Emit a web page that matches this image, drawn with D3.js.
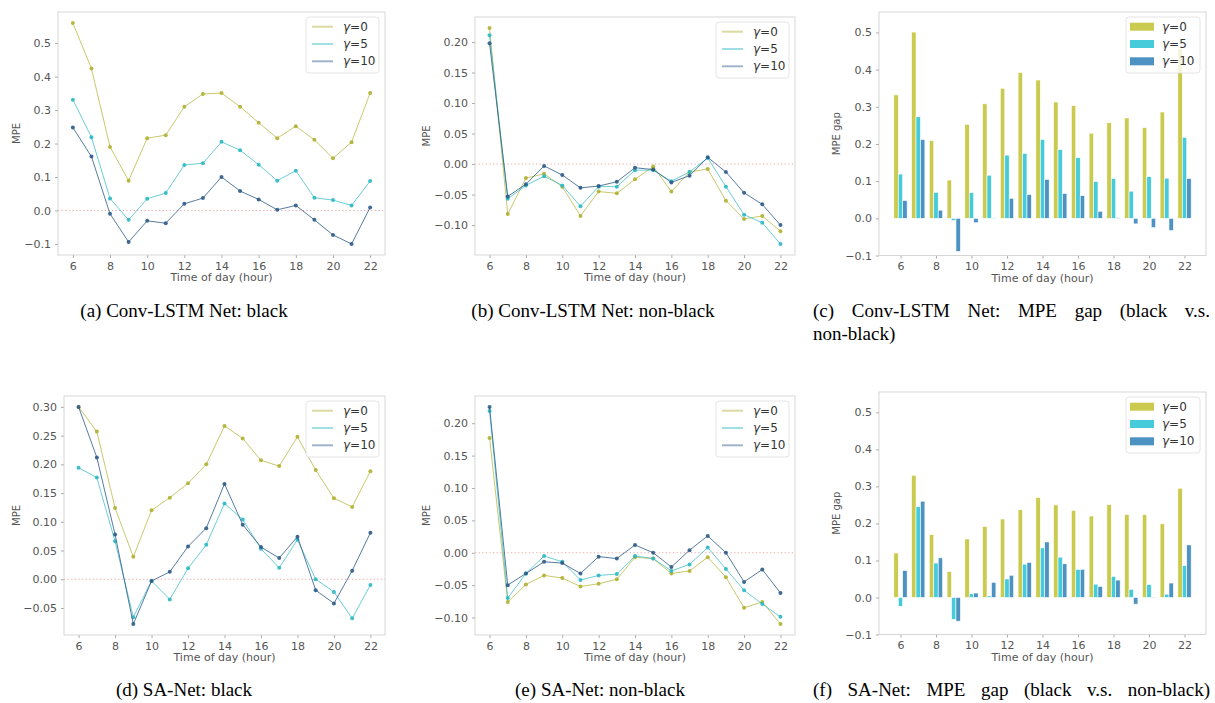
<!DOCTYPE html>
<meta charset="utf-8">
<style>
  body { margin: 0; background: #fff; }
  svg text { font-family: "DejaVu Sans", sans-serif; }
  svg .caption text { font-family: "Liberation Serif", "Times New Roman", serif; font-size: 19px; fill: #000; }
</style>
<svg id="fig" width="1215" height="703"></svg>
<script src="https://d3js.org/d3.v7.min.js"></script>
<script>
// hours on the x axis
const hours = [6, 7, 8, 9, 10, 11, 12, 13, 14, 15, 16, 17, 18, 19, 20, 21, 22];
const xTicks = [6, 8, 10, 12, 14, 16, 18, 20, 22];
const gammas = ["0", "5", "10"];

// (a) Conv-LSTM Net: black
const convBlack0 = [0.56, 0.424, 0.19, 0.089, 0.216, 0.225, 0.31, 0.348, 0.351, 0.31, 0.262, 0.216, 0.252, 0.211, 0.156, 0.204, 0.351];
const convBlack5 = [0.331, 0.219, 0.036, -0.028, 0.035, 0.052, 0.136, 0.141, 0.205, 0.18, 0.137, 0.089, 0.119, 0.038, 0.031, 0.015, 0.088];
const convBlack10 = [0.248, 0.161, -0.01, -0.094, -0.031, -0.038, 0.02, 0.037, 0.1, 0.058, 0.033, 0.002, 0.015, -0.028, -0.073, -0.1, 0.009];

// (b) Conv-LSTM Net: non-black
const convNon0 = [0.223, -0.082, -0.023, -0.016, -0.037, -0.085, -0.045, -0.048, -0.025, -0.004, -0.045, -0.013, -0.008, -0.06, -0.09, -0.085, -0.11];
const convNon5 = [0.211, -0.057, -0.035, -0.02, -0.035, -0.069, -0.037, -0.037, -0.01, -0.01, -0.028, -0.013, 0.01, -0.037, -0.083, -0.096, -0.131];
const convNon10 = [0.198, -0.053, -0.033, -0.003, -0.018, -0.039, -0.036, -0.029, -0.006, -0.009, -0.03, -0.019, 0.011, -0.013, -0.047, -0.066, -0.1];

// (c) Conv-LSTM Net: MPE gap
const convGap0 = [0.332, 0.501, 0.209, 0.103, 0.253, 0.308, 0.35, 0.392, 0.372, 0.313, 0.303, 0.229, 0.257, 0.27, 0.244, 0.286, 0.457];
const convGap5 = [0.119, 0.273, 0.07, -0.006, 0.069, 0.116, 0.17, 0.175, 0.212, 0.185, 0.163, 0.099, 0.107, 0.073, 0.112, 0.108, 0.218];
const convGap10 = [0.048, 0.212, 0.022, -0.089, -0.012, 0.001, 0.054, 0.064, 0.105, 0.067, 0.061, 0.019, 0.002, -0.015, -0.025, -0.033, 0.107];

// (d) SA-Net: black
const saBlack0 = [0.30, 0.257, 0.124, 0.039, 0.12, 0.142, 0.167, 0.2, 0.267, 0.245, 0.207, 0.197, 0.248, 0.19, 0.141, 0.126, 0.188];
const saBlack5 = [0.194, 0.177, 0.066, -0.066, -0.003, -0.035, 0.019, 0.06, 0.132, 0.104, 0.053, 0.02, 0.069, 0.0, -0.022, -0.068, -0.01];
const saBlack10 = [0.30, 0.212, 0.078, -0.078, -0.003, 0.013, 0.057, 0.089, 0.166, 0.095, 0.056, 0.037, 0.074, -0.019, -0.042, 0.015, 0.081];

// (e) SA-Net: non-black
const saNon0 = [0.177, -0.076, -0.049, -0.035, -0.039, -0.052, -0.048, -0.041, -0.007, -0.009, -0.032, -0.028, -0.007, -0.038, -0.085, -0.076, -0.11];
const saNon5 = [0.219, -0.07, -0.032, -0.005, -0.014, -0.042, -0.035, -0.033, -0.005, -0.009, -0.028, -0.018, 0.008, -0.025, -0.058, -0.079, -0.099];
const saNon10 = [0.225, -0.05, -0.032, -0.014, -0.016, -0.032, -0.006, -0.009, 0.012, 0.0, -0.022, 0.004, 0.026, 0.0, -0.045, -0.026, -0.062];

// (f) SA-Net: MPE gap
const saGap0 = [0.12, 0.33, 0.17, 0.07, 0.158, 0.192, 0.212, 0.237, 0.27, 0.25, 0.235, 0.22, 0.251, 0.224, 0.224, 0.199, 0.295];
const saGap5 = [-0.024, 0.245, 0.093, -0.059, 0.01, 0.004, 0.05, 0.09, 0.134, 0.109, 0.076, 0.036, 0.057, 0.022, 0.035, 0.009, 0.086];
const saGap10 = [0.073, 0.26, 0.107, -0.064, 0.012, 0.041, 0.06, 0.095, 0.15, 0.091, 0.076, 0.03, 0.047, -0.018, 0.001, 0.039, 0.142];

// y tick values per panel
const ticksA = [-0.1, 0, 0.1, 0.2, 0.3, 0.4, 0.5];
const ticksB = [-0.10, -0.05, 0, 0.05, 0.10, 0.15, 0.20];
const ticksD = [-0.05, 0, 0.05, 0.10, 0.15, 0.20, 0.25, 0.30];

const lineColors = ["#b0b030", "#2bb8c4", "#2d5b88"];
const barColors = ["#bcbd22", "#17becf", "#1f77b4"];

const panels = [
  {type: "line", series: [convBlack0, convBlack5, convBlack10], left: 58, right: 385, top: 12, bottom: 255,
   xDom: [5.2, 22.8], yDom: [-0.133, 0.593], yTicks: ticksA, fmt: ".1f", ylabel: "MPE", labelX: 17},
  {type: "line", series: [convNon0, convNon5, convNon10], left: 475, right: 795, top: 17, bottom: 255,
   xDom: [5.2, 22.8], yDom: [-0.149, 0.241], yTicks: ticksB, fmt: ".2f", ylabel: "MPE", labelX: 427},
  {type: "bar", series: [convGap0, convGap5, convGap10], left: 879, right: 1206, top: 12, bottom: 255.5,
   xDom: [4.79, 23.21], yDom: [-0.1, 0.555], yTicks: ticksA, fmt: ".1f", ylabel: "MPE gap", labelX: 837},
  {type: "line", series: [saBlack0, saBlack5, saBlack10], left: 64, right: 385, top: 396, bottom: 635,
   xDom: [5.2, 22.8], yDom: [-0.097, 0.319], yTicks: ticksD, fmt: ".2f", ylabel: "MPE", labelX: 17},
  {type: "line", series: [saNon0, saNon5, saNon10], left: 475, right: 795, top: 396, bottom: 635,
   xDom: [5.2, 22.8], yDom: [-0.127, 0.242], yTicks: ticksB, fmt: ".2f", ylabel: "MPE", labelX: 427},
  {type: "bar", series: [saGap0, saGap5, saGap10], left: 879, right: 1206, top: 392, bottom: 634.5,
   xDom: [4.79, 23.21], yDom: [-0.1, 0.555], yTicks: ticksA, fmt: ".1f", ylabel: "MPE gap", labelX: 837}
];

const svg = d3.select("#fig");
svg.append("rect").attr("width", 1215).attr("height", 703).attr("fill", "#fff");

function drawPanel(p) {
  const g = svg.append("g");
  const x = d3.scaleLinear().domain(p.xDom).range([p.left, p.right]);
  const y = d3.scaleLinear().domain(p.yDom).range([p.bottom, p.top]);

  // axes
  const xa = g.append("g")
      .attr("transform", `translate(0,${p.bottom})`)
      .call(d3.axisBottom(x).tickValues(xTicks).tickSize(3).tickPadding(4).tickFormat(d3.format("d")));
  const ya = g.append("g")
      .attr("transform", `translate(${p.left},0)`)
      .call(d3.axisLeft(y).tickValues(p.yTicks).tickSize(3).tickPadding(4).tickFormat(d3.format(p.fmt)));
  [xa, ya].forEach(a => {
    a.select(".domain").remove();
    a.attr("font-family", null).attr("font-size", null);
    a.selectAll(".tick line").attr("stroke", "#aaa");
    a.selectAll(".tick text").attr("fill", "#555").attr("font-size", 11);
  });

  g.append("text")
      .attr("transform", `translate(${p.labelX},${(p.top + p.bottom) / 2}) rotate(-90)`)
      .attr("text-anchor", "middle")
      .attr("dominant-baseline", "middle")
      .attr("font-size", 10)
      .attr("fill", "#555")
      .text(p.ylabel);
  g.append("text")
      .attr("x", (p.left + p.right) / 2)
      .attr("y", p.bottom + 26)
      .attr("text-anchor", "middle")
      .attr("font-size", 11)
      .attr("fill", "#555")
      .text("Time of day (hour)");

  if (p.type === "line") {
    g.append("line")
        .attr("x1", p.left).attr("x2", p.right)
        .attr("y1", y(0)).attr("y2", y(0))
        .attr("stroke", "#e06060").attr("stroke-width", 0.8)
        .attr("stroke-dasharray", "1.2,2.4").attr("opacity", 0.7);
    const line = d3.line().x((d, i) => x(hours[i])).y(d => y(d));
    p.series.forEach((s, k) => {
      g.append("path")
          .attr("d", line(s))
          .attr("fill", "none")
          .attr("stroke", lineColors[k])
          .attr("stroke-width", 1)
          .attr("opacity", k === 2 ? 0.8 : 0.7);
      g.append("g").selectAll("circle")
        .data(s).join("circle")
          .attr("cx", (d, i) => x(hours[i]))
          .attr("cy", d => y(d))
          .attr("r", 2)
          .attr("fill", lineColors[k])
          .attr("opacity", 0.9);
    });
  } else {
    const offsets = [-0.25, 0, 0.25];
    const bw = 0.25;
    p.series.forEach((s, k) => {
      g.append("g").selectAll("rect")
        .data(s).join("rect")
          .attr("x", (d, i) => x(hours[i] + offsets[k] - bw / 2))
          .attr("width", x(bw) - x(0))
          .attr("y", d => y(Math.max(d, 0)))
          .attr("height", d => Math.abs(y(d) - y(0)))
          .attr("fill", barColors[k])
          .attr("fill-opacity", 0.8)
          .attr("stroke", "#fff")
          .attr("stroke-width", 0.6);
    });
  }

  // frame
  g.append("rect")
      .attr("x", p.left).attr("y", p.top)
      .attr("width", p.right - p.left).attr("height", p.bottom - p.top)
      .attr("fill", "none").attr("stroke", "#ccc").attr("stroke-width", 0.8);

  // legend
  const lw = p.type === "bar" ? 74 : 73;
  const lg = g.append("g").attr("transform", `translate(${p.right - 6 - lw},${p.top + 5})`);
  lg.append("rect")
      .attr("width", lw).attr("height", 56).attr("rx", 3)
      .attr("fill", "#fff").attr("fill-opacity", 0.8)
      .attr("stroke", "#ddd").attr("stroke-width", 0.8);
  gammas.forEach((gm, k) => {
    const cy = 9.7 + k * 17.3;
    if (p.type === "line") {
      lg.append("line")
          .attr("x1", 6).attr("x2", 27).attr("y1", cy).attr("y2", cy)
          .attr("stroke", lineColors[k]).attr("stroke-width", 2).attr("opacity", 0.45);
    } else {
      lg.append("rect")
          .attr("x", 4).attr("y", cy - 4).attr("width", 24).attr("height", 8)
          .attr("fill", barColors[k]).attr("fill-opacity", 0.8);
    }
    const t = lg.append("text")
        .attr("x", p.type === "bar" ? 36 : 37).attr("y", cy)
        .attr("dominant-baseline", "middle")
        .attr("font-size", 12).attr("fill", "#333");
    t.append("tspan").attr("font-style", "italic").text("γ");
    t.append("tspan").text("=" + gm);
  });
}

panels.forEach(drawPanel);

// captions
const cap = svg.append("g").attr("class", "caption");

// spread words across a fixed width, like a justified line
function justified(str, x0, y0, width) {
  const t = cap.append("text").attr("y", y0);
  const words = str.split(" ");
  const spans = words.map(w => t.append("tspan").text(w));
  const widths = spans.map(s => s.node().getComputedTextLength());
  const gap = (width - d3.sum(widths)) / (words.length - 1);
  let cx = x0;
  spans.forEach((s, i) => { s.attr("x", cx); cx += widths[i] + gap; });
}

cap.append("text").attr("x", 184).attr("y", 317).attr("text-anchor", "middle").text("(a) Conv-LSTM Net: black");
cap.append("text").attr("x", 593).attr("y", 317).attr("text-anchor", "middle").text("(b) Conv-LSTM Net: non-black");
justified("(c) Conv-LSTM Net: MPE gap (black v.s.", 813, 317, 397);
cap.append("text").attr("x", 813).attr("y", 340).text("non-black)");
cap.append("text").attr("x", 184).attr("y", 696).attr("text-anchor", "middle").text("(d) SA-Net: black");
cap.append("text").attr("x", 600).attr("y", 696).attr("text-anchor", "middle").text("(e) SA-Net: non-black");
justified("(f) SA-Net: MPE gap (black v.s. non-black)", 813, 696, 397);
</script>
